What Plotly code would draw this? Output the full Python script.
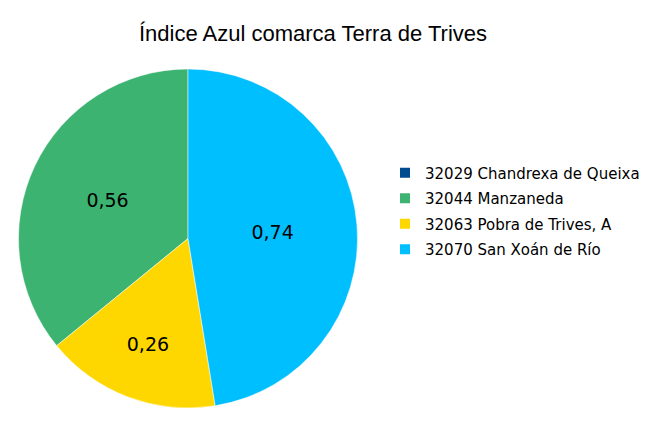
import plotly.graph_objects as go

labels = ["32029 Chandrexa de Queixa", "32044 Manzaneda", "32063 Pobra de Trives, A", "32070 San Xoán de Río"]
values = [0.0, 0.56, 0.26, 0.74]
colors = ["#004A8F", "#3CB371", "#FFD700", "#00BFFF"]

fig = go.Figure(go.Pie(
    labels=labels, values=values, sort=False, direction="counterclockwise", rotation=0,
    marker=dict(colors=colors, line=dict(color="white", width=0.5)),
    textinfo="value", texttemplate="%{value:.2f}", textposition="inside",
    insidetextorientation="horizontal",
    textfont=dict(family="DejaVu Sans", size=19, color="black"),
    domain=dict(x=[18/650, 358/650], y=[1-408/425, 1-69/425]),
    hoverinfo="label+value", showlegend=False,
))
for i, (lab, col) in enumerate(zip(labels, colors)):
    fig.add_trace(go.Scatter(
        x=[None], y=[None], mode="markers", name=lab, legendgroup=f"g{i}",
        marker=dict(symbol="square", size=10, color=col), showlegend=True, hoverinfo="skip",
    ))
fig.update_layout(
    width=650, height=425, margin=dict(l=0, r=0, t=0, b=0),
    separators=",.",
    paper_bgcolor="white", plot_bgcolor="white",
    xaxis=dict(visible=False), yaxis=dict(visible=False),
    title=dict(text="Índice Azul comarca Terra de Trives", x=313/650, xanchor="center", y=1-33/425, yanchor="middle",
               font=dict(family="Liberation Sans", size=22, color="black")),
    legend=dict(x=385/650, y=1-211/425, xanchor="left", yanchor="middle",
                font=dict(family="DejaVu Sans", size=15, color="black"),
                itemwidth=30, tracegroupgap=3),
)
fig.write_html("out.html")
